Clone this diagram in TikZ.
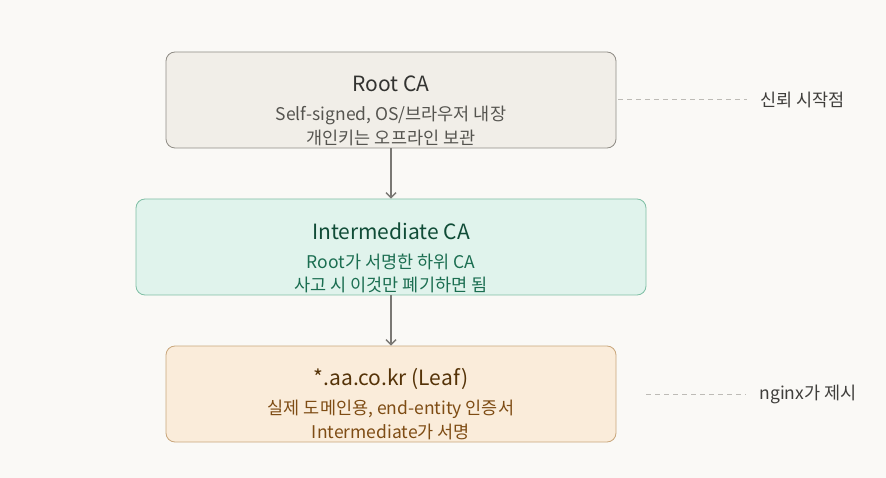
\documentclass[tikz,border=0pt]{standalone}
\usepackage{fontspec}
\setmainfont{Noto Sans CJK KR}
\usetikzlibrary{arrows.meta}
\definecolor{bg}{HTML}{FAF9F6}
\definecolor{rootfill}{HTML}{F1EEE8}
\definecolor{rootdraw}{HTML}{8F8C85}
\definecolor{roottitle}{HTML}{333331}
\definecolor{roottext}{HTML}{55544F}
\definecolor{intfill}{HTML}{E0F3EC}
\definecolor{intdraw}{HTML}{7FBFA5}
\definecolor{inttitle}{HTML}{104C37}
\definecolor{inttext}{HTML}{1B6E51}
\definecolor{leaffill}{HTML}{FAECDA}
\definecolor{leafdraw}{HTML}{C9A77C}
\definecolor{leaftitle}{HTML}{553308}
\definecolor{leaftext}{HTML}{7E4C14}
\definecolor{arrowc}{HTML}{7A7874}
\definecolor{dashc}{HTML}{BDBBB6}
\definecolor{notec}{HTML}{3F3E3B}
\tikzset{
  box/.style={draw, rounded corners=9pt, line width=0.8pt, minimum height=96pt, inner sep=0pt},
  title/.style={font=\fontsize{21}{23}\selectfont, anchor=center},
  sub/.style={font=\fontsize{17.5}{19}\selectfont, anchor=center},
  flow/.style={draw=arrowc, line width=1.6pt, -{Straight Barb[length=5pt,width=10pt,line width=1.4pt]}},
  note/.style={draw=dashc, line width=1pt, dash pattern=on 5pt off 4pt, shorten >=10pt},
  notetext/.style={font=\fontsize{17.5}{19}\selectfont, text=notec, anchor=west},
}
\begin{document}
\begin{tikzpicture}[x=1pt,y=-1pt]
\fill[bg] (0,0) rectangle (886,478);
\useasboundingbox (0,0) rectangle (886,478);
% boxes
\node[box, fill=rootfill, draw=rootdraw, minimum width=450pt] (root) at (391,100) {};
\node[box, fill=intfill, draw=intdraw, minimum width=510pt] (int) at (391,247) {};
\node[box, fill=leaffill, draw=leafdraw, minimum width=450pt] (leaf) at (391,394) {};
% texts
\node[title, text=roottitle] (rt) at (391,84) {Root CA};
\node[sub, text=roottext] (r1) at (391,115) {Self-signed, OS/브라우저 내장};
\node[sub, text=roottext] (r2) at (391,138) {개인키는 오프라인 보관};
\node[title, text=inttitle] (it) at (391,231) {Intermediate CA};
\node[sub, text=inttext] (i1) at (391,262) {Root가 서명한 하위 CA};
\node[sub, text=inttext] (i2) at (391,285) {사고 시 이것만 폐기하면 됨};
\node[title, text=leaftitle] (lt) at (391,379) {*.aa.co.kr (Leaf)};
\node[sub, text=leaftext] (l1) at (391,409) {실제 도메인용, end-entity 인증서};
\node[sub, text=leaftext] (l2) at (391,432) {Intermediate가 서명};
% arrows
\draw[flow] (root.south) -- (int.north);
\draw[flow] (int.south) -- (leaf.north);
% notes
\node[notetext] (n1) at (757,100) {신뢰 시작점};
\node[notetext] (n2) at (756,394) {nginx가 제시};
\draw[note] (root.east) ++(2,0) -- (n1.west);
\draw[note] (leaf.east) ++(30,0) -- (n2.west);
\end{tikzpicture}
\end{document}
